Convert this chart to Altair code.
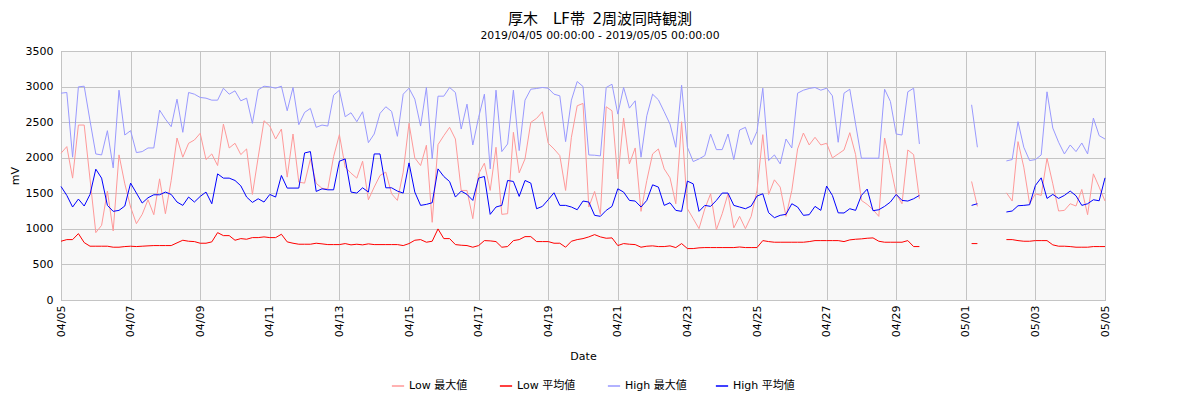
import altair as alt
import pandas as pd

# 4-hourly samples from 2019-04-05 00:00 (index 0) to 2019-05-05 00:00 (index 180); None = no data
low_max = [
    2063, 2156, 1713, 2459, 2459, 1700, 947, 1050, 1531, 971, 2040, 1633, 1307, 1073, 1204, 1409, 1199, 1703, 1213, 1680, 2277, 2007, 2203,
    2249, 2343, 1974, 2053, 1890, 2473, 2137, 2203, 2044, 2123, 1484, 2007, 2520, 2445, 2263, 2403, 1727, 2333, 1657, 1643, 1980, 1640,
    1570, 1560, 2016, 2324, 1867, 1783, 1713, 1951, 1409, 1587, 1750, 1797, 1493, 1400, 1797, 2483, 1997, 1890, 2175, 1092, 2184, 2310,
    2427, 2263, 1540, 1540, 1143, 1773, 1923, 1540, 2147, 1204, 1213, 2357, 1788, 1983, 2497, 2553, 2646, 2203, 2123, 2030, 1540, 2287, 2730,
    2763, 1307, 1526, 1204, 2716, 2660, 1703, 2557, 1913, 2137, 1246, 1680, 2053, 2123, 1843, 1717, 1353, 2506, 1283, 1143, 1003, 1283, 1493,
    989, 1213, 1493, 1013, 1176, 1003, 1176, 1540, 2324, 1484, 1689, 1587, 1176, 1540, 2123, 2347, 2179, 2287, 2179, 2203, 1997, 2053,
    2109, 2352, 2044, 1400, 1344, 1269, 1176, 2277, 1890, 1493, 1353, 2109, 2044, 1423,
    None, None, None, None, None, None, None, None, 1666, 1316, None, None, None, None,
    1507, 1391, 2226, 1867, 1353, 1493, 1470, 1993, 1633, 1251, 1260, 1353, 1321, 1554, 1199, 1773, 1587, 1391,
]
low_avg = [
    826, 849, 849, 933, 807, 756, 756, 756, 756, 742, 742, 751, 756, 751, 756, 761, 765, 765, 765, 765, 803, 840, 826,
    821, 798, 798, 817, 947, 905, 905, 840, 863, 854, 877, 877, 887, 877, 877, 924, 817, 798, 784, 784, 784, 798,
    789, 779, 779, 779, 793, 775, 784, 775, 789, 779, 779, 779, 779, 779, 765, 793, 840, 849, 812, 826, 999, 863,
    863, 779, 770, 765, 742, 765, 835, 831, 821, 742, 751, 835, 849, 891, 891, 821, 821, 821, 798, 798, 742, 826, 849,
    863, 887, 919, 887, 868, 873, 765, 793, 784, 779, 742, 756, 761, 751, 751, 761, 737, 793, 723, 723, 733, 737, 737,
    737, 737, 737, 737, 745, 737, 737, 737, 835, 821, 812, 812, 812, 812, 812, 812, 821, 835, 835, 835, 835, 835,
    821, 845, 854, 859, 868, 873, 826, 812, 812, 812, 812, 835, 751, 751,
    None, None, None, None, None, None, None, None, 793, 793, None, None, None, None,
    849, 849, 835, 826, 826, 835, 835, 835, 775, 756, 756, 751, 742, 742, 742, 751, 751, 751,
]
high_max = [
    2907, 2917, 2007, 2996, 3005, 2520, 2053, 2039, 2380, 1857, 2949, 2319, 2380, 2072, 2086, 2137, 2137, 2669, 2543, 2436, 2823, 2357, 2917,
    2893, 2847, 2837, 2809, 2809, 2977, 2893, 2940, 2800, 2837, 2483, 2954, 3005, 2996, 2977, 3005, 2660, 2987, 2464, 2637, 2693, 2427,
    2459, 2445, 2879, 2949, 2576, 2632, 2506, 2646, 2212, 2333, 2623, 2716, 2651, 2301, 2893, 2977, 2823, 2445, 2987, 1983, 2865, 2865,
    2987, 2917, 2403, 2753, 2179, 2567, 2893, 1843, 2949, 2086, 2193, 2949, 2100, 2809, 2963, 2973, 2987, 2977, 2893, 2870, 2226, 2809, 3071,
    3001, 2039, 2035, 2025, 2987, 3033, 2613, 2987, 2697, 2800, 2007, 2590, 2893, 2814, 2646, 2473, 2147, 3019, 2147, 1946, 1983, 2030, 2333,
    2114, 2114, 2333, 1974, 2389, 2427, 2184, 2370, 2977, 1960, 2039, 1913, 2263, 2137, 2907, 2949, 2973, 2987, 2949, 2977, 2870, 2217,
    2907, 2963, 2473, 1993, 1993, 1993, 1993, 2963, 2791, 2333, 2319, 2926, 2977, 2193,
    None, None, None, None, None, None, None, None, 2744, 2147, None, None, None, None,
    1955, 1974, 2506, 2147, 1960, 1974, 2039, 2926, 2417, 2217, 2053, 2179, 2086, 2207, 2053, 2557, 2310, 2263,
]
high_avg = [
    1596, 1470, 1307, 1419, 1321, 1484, 1839, 1713, 1330, 1246, 1260, 1321, 1643, 1503, 1363, 1437, 1479, 1479, 1517, 1484, 1377, 1330, 1447,
    1377, 1456, 1517, 1353, 1773, 1713, 1713, 1680, 1605, 1447, 1372, 1423, 1377, 1484, 1447, 1750, 1573, 1573, 1573, 2067, 2086, 1526,
    1563, 1549, 1549, 1951, 1983, 1517, 1503, 1577, 1517, 2053, 2053, 1577, 1577, 1531, 1503, 1927, 1517, 1330, 1344, 1367, 1843, 1736,
    1665, 1447, 1531, 1484, 1400, 1713, 1736, 1204, 1307, 1330, 1680, 1666, 1456, 1680, 1643, 1283, 1316, 1409, 1507, 1330, 1330, 1307, 1269,
    1391, 1377, 1190, 1176, 1260, 1316, 1563, 1517, 1400, 1391, 1307, 1400, 1619, 1587, 1330, 1367, 1260, 1246, 1671, 1633, 1246, 1330, 1316,
    1400, 1503, 1503, 1330, 1307, 1283, 1321, 1461, 1493, 1227, 1157, 1190, 1204, 1353, 1307, 1190, 1199, 1316, 1260, 1601, 1470, 1225,
    1223, 1283, 1260, 1470, 1559, 1255, 1269, 1316, 1377, 1484, 1400, 1391, 1423, 1470,
    None, None, None, None, None, None, None, None, 1330, 1353, None, None, None, None,
    1237, 1251, 1325, 1330, 1339, 1610, 1717, 1428, 1484, 1428, 1470, 1531, 1465, 1330, 1353, 1409, 1395, 1717,
]

series_names = ["Low 最大値", "Low 平均値", "High 最大値", "High 平均値"]
series_colors = ["#ff9999", "#ff0000", "#9999ff", "#0000ff"]
tick_days = [(4, d) for d in range(5, 30, 2)] + [(5, 1), (5, 3), (5, 5)]
y_ticks = [0, 500, 1000, 1500, 2000, 2500, 3000, 3500]

title_text = "厚木\u3000LF帯\u20022周波同時観測"
subtitle_text = "2019/04/05 00:00:00 - 2019/05/05 00:00:00"

start = pd.Timestamp("2019-04-05 00:00:00")
rows = []
for name, vals in zip(series_names, [low_max, low_avg, high_max, high_avg]):
    seg = 0
    gap = False
    for i, v in enumerate(vals):
        if v is None:
            gap = True
            continue
        if gap:
            seg += 1
            gap = False
        t = start + pd.Timedelta(hours=4 * i)
        rows.append({"time": t.strftime("%Y-%m-%dT%H:%M:%S"), "value": v,
                     "series": name, "seg": f"{name}-{seg}"})
df = pd.DataFrame(rows)

FONT = "DejaVu Sans, Noto Sans CJK JP"

x_values = [alt.DateTime(year=2019, month=m, date=d) for m, d in tick_days]

chart = alt.Chart(df).mark_line(strokeWidth=1).encode(
    x=alt.X("time:T", title="Date",
            scale=alt.Scale(domain=[alt.DateTime(year=2019, month=4, date=5),
                                    alt.DateTime(year=2019, month=5, date=5)]),
            axis=alt.Axis(values=x_values, format="%m/%d", labelAngle=-90,
                          ticks=False, labelPadding=5, titlePadding=14,
                          grid=True, domain=False)),
    y=alt.Y("value:Q", title="mV",
            scale=alt.Scale(domain=[0, 3500], nice=False),
            axis=alt.Axis(values=y_ticks, format="d", ticks=False,
                          labelPadding=8, titlePadding=5, grid=True, domain=False)),
    color=alt.Color("series:N",
                    scale=alt.Scale(domain=series_names, range=series_colors),
                    legend=alt.Legend(title=None, orient="none", direction="horizontal",
                                      legendX=330, legendY=328,
                                      symbolType="stroke", symbolSize=150,
                                      symbolStrokeWidth=1.5, columnPadding=25,
                                      gridAlign="all",
                                      labelFontSize=11, labelFont=FONT,
                                      labelColor="#000000")),
    detail="seg:N",
).properties(
    width=1044,
    height=249,
    title=alt.Title(title_text,
                    subtitle=subtitle_text,
                    fontSize=15, font=FONT, fontWeight="normal",
                    subtitleFont="DejaVu Sans", subtitleFontSize=10.8,
                    subtitleColor="#000000", color="#000000",
                    subtitlePadding=3, anchor="middle", dx=17, offset=4),
    padding={"left": 53, "top": 43, "right": 87, "bottom": 92},
    autosize=alt.AutoSizeParams(type="none"),
).configure_view(
    fill="#f8f8f8", stroke="#a0a0a0", strokeWidth=1,
).configure_axis(
    labelFont=FONT, titleFont=FONT, labelFontSize=11, titleFontSize=11,
    labelColor="#000000", titleColor="#000000", titleFontWeight="normal",
    gridColor="#c4c4c4", gridOpacity=1,
)

chart.save("out.html", embed_options={"renderer": "svg", "actions": False})
